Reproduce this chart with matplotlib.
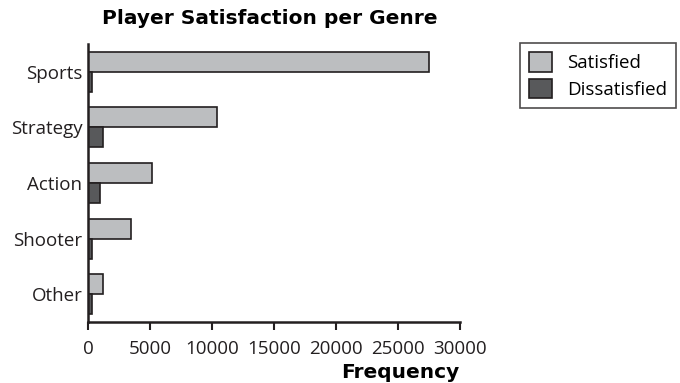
import matplotlib
matplotlib.use("Agg")
import matplotlib.pyplot as plt
import numpy as np

# data
genres = ["Sports", "Strategy", "Action", "Shooter", "Other"]
satisfied = [27500, 10400, 5200, 3500, 1200]
dissatisfied = [300, 1200, 950, 300, 300]
series_names = ["Satisfied", "Dissatisfied"]
xticks = [0, 5000, 10000, 15000, 20000, 25000, 30000]

plt.rcParams['font.family'] = ['Open Sans', 'DejaVu Sans']

fig = plt.figure(figsize=(6.8, 3.83), dpi=100)
ax = fig.add_axes([88 / 680, 1 - 322 / 383, 372 / 680, 278 / 383])

y = np.arange(len(genres))
h = 0.36
edge = '#231f20'
ax.barh(y - h / 2, satisfied, height=h, color='#bcbec0', edgecolor=edge,
        linewidth=1.2, label=series_names[0])
ax.barh(y + h / 2, dissatisfied, height=h, color='#58595b', edgecolor=edge,
        linewidth=1.2, label=series_names[1])

ax.set_ylim(len(genres) - 0.5, -0.5)
ax.set_xlim(0, 30000)
ax.set_yticks(y)
ax.set_yticklabels(genres, fontsize=13.5, color='#231f20')
ax.set_xticks(xticks)
ax.set_xticklabels([str(t) for t in xticks], fontsize=13.5, color='#231f20')
ax.tick_params(axis='y', length=0, pad=4)
ax.tick_params(axis='x', length=6, width=1.5, color=edge, pad=7)

for s in ['top', 'right']:
    ax.spines[s].set_visible(False)
for s in ['left', 'bottom']:
    ax.spines[s].set_linewidth(1.8)
    ax.spines[s].set_color(edge)

fig.text(270 / 680, 1 - 18 / 383, "Player Satisfaction per Genre",
         ha='center', va='center', fontsize=14.5, fontweight='heavy',
         family=['DejaVu Sans'])
fig.text(459 / 680, 1 - 373 / 383, "Frequency", ha='right', va='center',
         fontsize=14.5, fontweight='heavy', family=['DejaVu Sans'])

leg = fig.legend(loc='upper left', bbox_to_anchor=(520 / 680, 1 - 43 / 383),
                 fontsize=13.5, frameon=True, fancybox=False,
                 handlelength=1.2, handleheight=1.2, handletextpad=0.8,
                 labelspacing=0.35, borderpad=0.5, borderaxespad=0)
leg.get_frame().set_edgecolor(edge)
leg.get_frame().set_linewidth(1.2)

fig.savefig("out.png", dpi=100)
